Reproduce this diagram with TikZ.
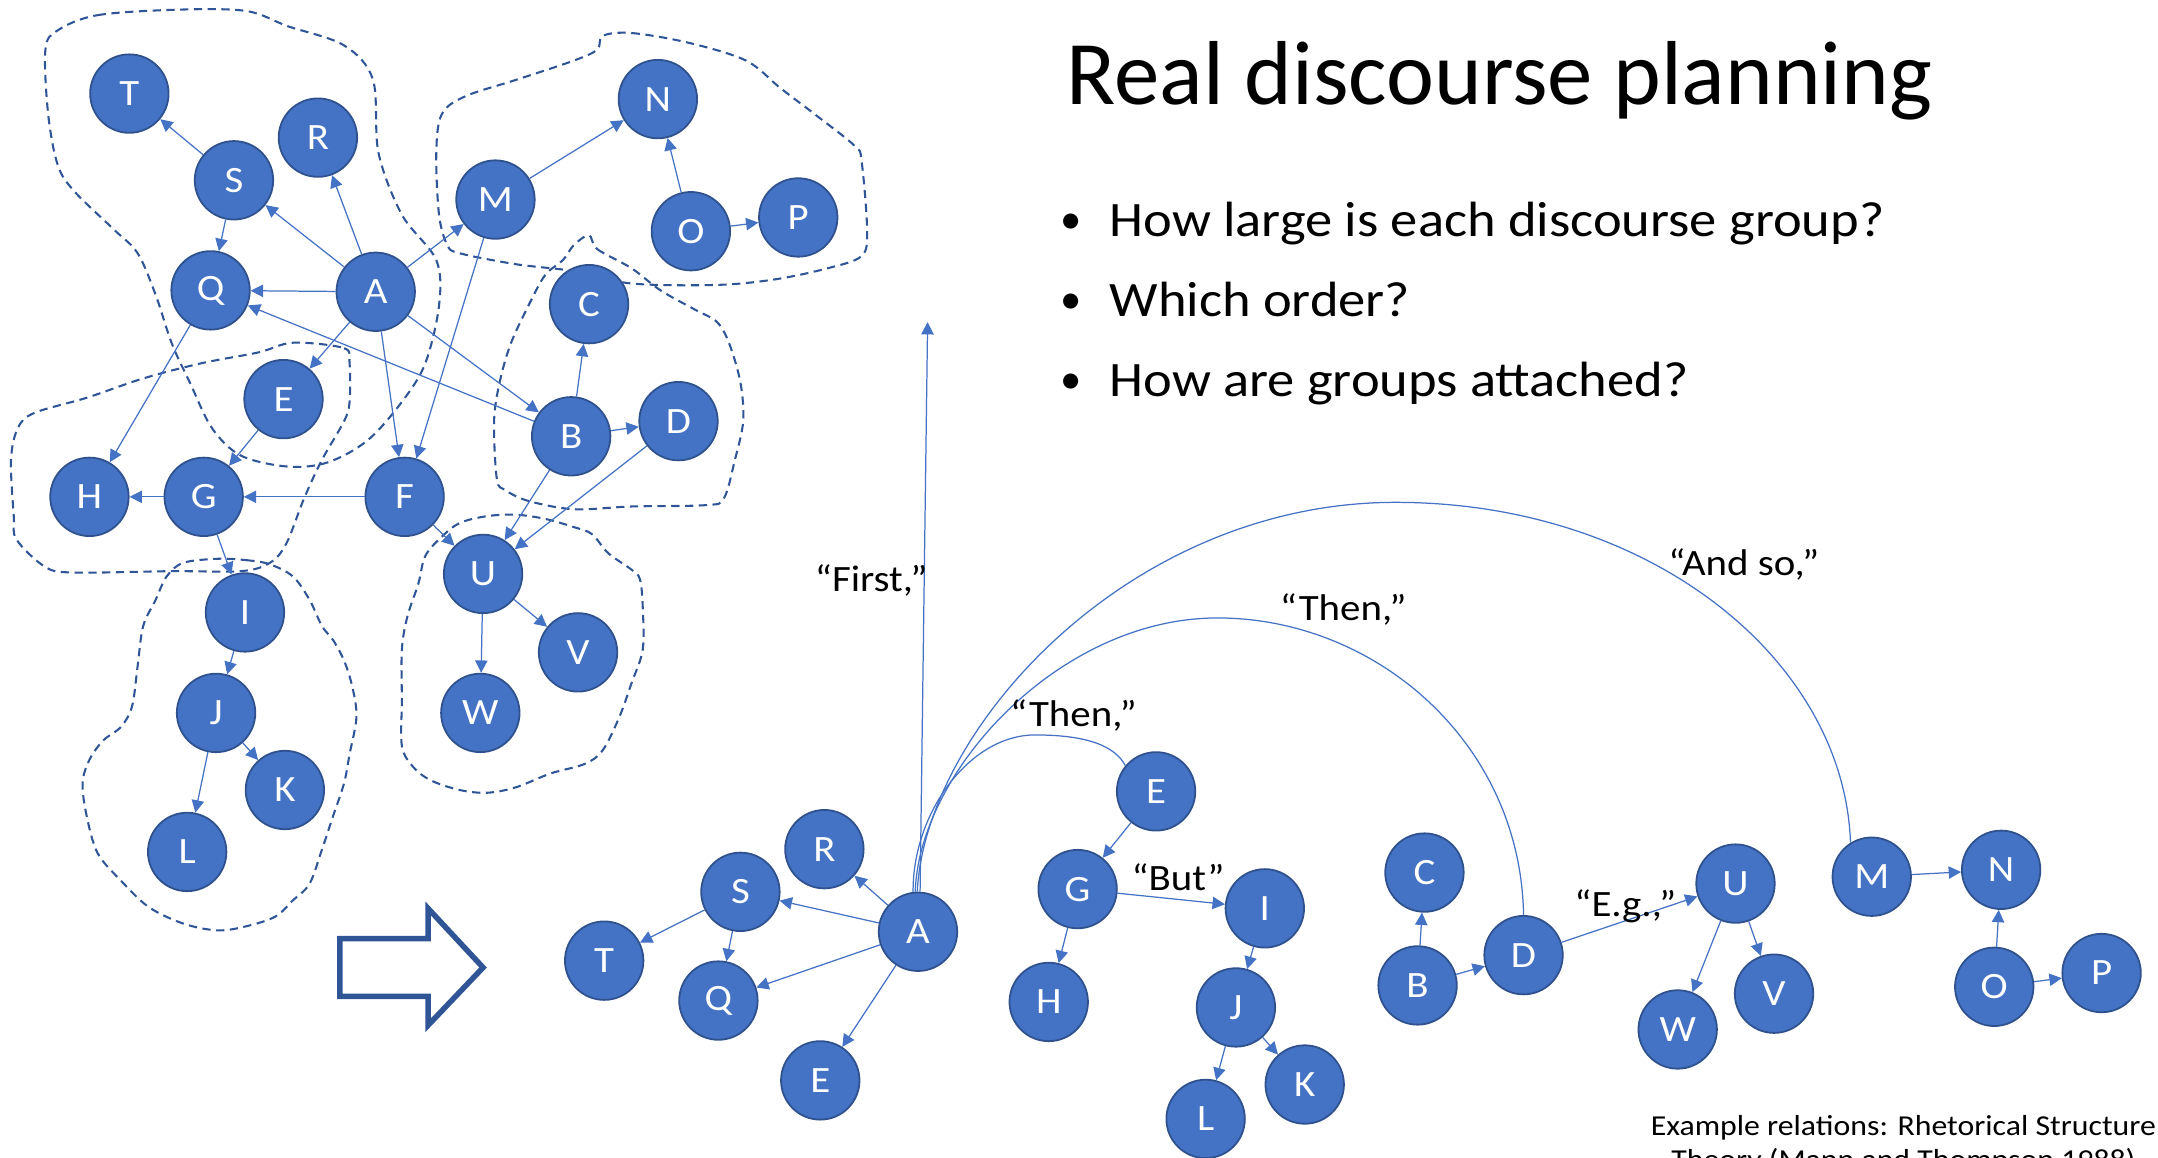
\documentclass[tikz,border=0pt]{standalone}
\usepackage{fontspec}
\setmainfont{Carlito}[FakeStretch=1.1]
\newfontfamily\titlefont{Carlito}
\usetikzlibrary{arrows.meta}
\definecolor{nodefill}{HTML}{4472C4}
\definecolor{nodeline}{HTML}{2F528F}
\definecolor{blobline}{HTML}{2F5597}
\definecolor{edgecol}{HTML}{4472C4}

\begin{document}
\begin{tikzpicture}[x=1pt,y=-1pt,
  unit/.style={circle, fill=nodefill, draw=nodeline, line width=1.3pt,
    minimum size=57pt, inner sep=0pt, text=white,
    font=\fontsize{27}{27}\selectfont},
  rel/.style={draw=edgecol, line width=0.9pt, -{Triangle[length=9pt,width=9pt]}},
  arcrel/.style={draw=edgecol, line width=0.9pt},
  group/.style={draw=blobline, line width=1.5pt, dash pattern=on 6pt off 4pt},
  cue/.style={font=\fontsize{27}{27}\selectfont, anchor=base, inner sep=0pt},
  bul/.style={font=\titlefont\fontsize{31}{31}\selectfont, anchor=base, inner sep=0pt},
  item/.style={font=\fontsize{36}{36}\selectfont, anchor=base west, inner sep=0pt},
  foot/.style={font=\fontsize{21}{21}\selectfont, anchor=base, inner sep=0pt},
  blockarrow/.style={draw=blobline, line width=4pt, fill=white, line join=miter},
]
\useasboundingbox (0,0) rectangle (1568,841);
\clip (0,0) rectangle (1568,841);

% ---------- dashed discourse groups ----------
\draw[group] plot[smooth cycle, tension=0.55] coordinates {
  (42,22) (71,11) (130,7) (179,8) (209,19) (250,33) (271,58) (275,111)
  (292,156) (317,189) (319,222) (309,264) (292,292) (267,320) (238,336)
  (209,339) (175,331) (154,311) (138,278) (125,250) (113,214) (100,184)
  (83,167) (54,139) (42,120) (35,83) (33,36)};
\draw[group] plot[smooth cycle, tension=0.55] coordinates {
  (438,26) (459,24) (500,31) (542,44) (567,64) (592,83) (621,106) (626,117)
  (630,167) (626,186) (601,195) (563,203) (521,207) (459,206) (417,197)
  (375,192) (334,184) (325,178) (319,156) (317,111) (321,83) (338,70)
  (375,58) (417,44) (434,36)};
\draw[group] plot[smooth cycle, tension=0.55] coordinates {
  (428,171) (434,181) (459,195) (480,211) (505,225) (521,234) (530,250)
  (538,278) (540,306) (534,334) (526,362) (513,367) (459,368) (417,370)
  (384,364) (367,356) (361,348) (359,306) (363,278) (371,250) (384,222)
  (396,200) (409,189) (417,178)};
\draw[group] plot[smooth cycle, tension=0.55] coordinates {
  (213,249) (250,253) (254,264) (254,292) (250,306) (234,334) (221,362)
  (208,395) (196,409) (175,415) (125,415) (54,416) (33,412) (12,392)
  (10,375) (8,334) (13,311) (25,300) (63,289) (104,275) (146,264) (188,256)};
\draw[group] plot[smooth cycle, tension=0.55] coordinates {
  (158,406) (179,407) (196,410) (213,419) (225,436) (234,455) (242,465)
  (250,480) (256,499) (259,521) (254,548) (250,569) (242,593) (234,617)
  (225,642) (213,654) (200,666) (179,673) (158,676) (133,671) (108,659)
  (88,640) (71,620) (63,593) (60,569) (65,552) (75,538) (88,528) (96,513)
  (100,484) (104,455) (113,436) (121,419) (133,409)};
\draw[group] plot[smooth cycle, tension=0.55] coordinates {
  (309,404) (321,390) (334,380) (354,375) (375,374) (396,377) (417,383)
  (430,388) (442,402) (459,414) (465,421) (467,441) (467,472) (459,496)
  (450,521) (438,545) (425,555) (400,562) (375,572) (354,576) (334,574)
  (313,567) (300,557) (292,542) (292,509) (292,472) (296,448) (304,424)};

% ---------- unordered graph ----------
\node[unit] (tT) at (94,68) {T};
\node[unit] (tR) at (231,100) {R};
\node[unit] (tS) at (170,131) {S};
\node[unit] (tM) at (360,145) {M};
\node[unit] (tN) at (478,72) {N};
\node[unit] (tO) at (502,168) {O};
\node[unit] (tP) at (580,158) {P};
\node[unit] (tQ) at (153,211) {Q};
\node[unit] (tA) at (273,212) {A};
\node[unit] (tC) at (428,221) {C};
\node[unit] (tE) at (206,290) {E};
\node[unit] (tB) at (415,317) {B};
\node[unit] (tD) at (493,306) {D};
\node[unit] (tH) at (65,361) {H};
\node[unit] (tG) at (148,361) {G};
\node[unit] (tF) at (294,361) {F};
\node[unit] (tU) at (351,417) {U};
\node[unit] (tV) at (420,474) {V};
\node[unit] (tW) at (349,518) {W};
\node[unit] (tI) at (178,445) {I};
\node[unit] (tJ) at (157,518) {J};
\node[unit] (tK) at (207,574) {K};
\node[unit] (tL) at (136,619) {L};

\draw[rel] (tS) -- (tT);
\draw[rel] (tA) -- (tR);
\draw[rel] (tA) -- (tS);
\draw[rel] (tS) -- (tQ);
\draw[rel] (tA) -- (tQ);
\draw[rel] (tA) -- (tM);
\draw[rel] (tM) -- (tN);
\draw[rel] (tO) -- (tN);
\draw[rel] (tO) -- (tP);
\draw[rel] (tA) -- (tE);
\draw[rel] (tA) -- (tF);
\draw[rel] (tA) -- (tB);
\draw[rel] (tB) -- (tQ);
\draw[rel] (tB) -- (tC);
\draw[rel] (tB) -- (tD);
\draw[rel] (tB) -- (tU);
\draw[rel] (tD) -- (tU);
\draw[rel] (tM) -- (tF);
\draw[rel] (tQ) -- (tH);
\draw[rel] (tE) -- (tG);
\draw[rel] (tG) -- (tH);
\draw[rel] (tF) -- (tG);
\draw[rel] (tF) -- (tU);
\draw[rel] (tG) -- (tI);
\draw[rel] (tI) -- (tJ);
\draw[rel] (tJ) -- (tK);
\draw[rel] (tJ) -- (tL);
\draw[rel] (tU) -- (tV);
\draw[rel] (tU) -- (tW);

% ---------- block arrow ----------
\draw[blockarrow] (247,682) -- (311,682) -- (311,660) -- (351,703)
  -- (311,745) -- (311,724) -- (247,724) -- cycle;

% ---------- ordered plan ----------
\node[unit] (bR) at (599,617) {R};
\node[unit] (bS) at (538,648) {S};
\node[unit] (bA) at (667,677) {A};
\node[unit] (bT) at (439,698) {T};
\node[unit] (bQ) at (522,727) {Q};
\node[unit] (bE) at (596,785) {E};
\node[unit] (bE2) at (840,575) {E};
\node[unit] (bG) at (783,646) {G};
\node[unit] (bH) at (762,728) {H};
\node[unit] (bI) at (919,660) {I};
\node[unit] (bJ) at (898,732) {J};
\node[unit] (bK) at (948,788) {K};
\node[unit] (bL) at (876,813) {L};
\node[unit] (bC) at (1035,634) {C};
\node[unit] (bB) at (1030,716) {B};
\node[unit] (bD) at (1107,694) {D};
\node[unit] (bU) at (1261,642) {U};
\node[unit] (bW) at (1219,748) {W};
\node[unit] (bV) at (1289,722) {V};
\node[unit] (bM) at (1360,637) {M};
\node[unit] (bN) at (1454,632) {N};
\node[unit] (bO) at (1449,717) {O};
\node[unit] (bP) at (1527,707) {P};

\draw[rel] (bA) -- (bR);
\draw[rel] (bA) -- (bS);
\draw[rel] (bS) -- (bT);
\draw[rel] (bS) -- (bQ);
\draw[rel] (bA) -- (bQ);
\draw[rel] (bA) -- (bE);
\draw[rel] (bE2) -- (bG);
\draw[rel] (bG) -- (bH);
\draw[rel] (bG) -- (bI);
\draw[rel] (bI) -- (bJ);
\draw[rel] (bJ) -- (bK);
\draw[rel] (bJ) -- (bL);
\draw[rel] (bB) -- (bC);
\draw[rel] (bB) -- (bD);
\draw[rel] (bD) -- (bU);
\draw[rel] (bU) -- (bW);
\draw[rel] (bU) -- (bV);
\draw[rel] (bM) -- (bN);
\draw[rel] (bO) -- (bN);
\draw[rel] (bO) -- (bP);

\coordinate (firsttip) at (674,234);
\draw[rel] (bA.87) -- (firsttip);

\draw[arcrel] (bA.97) .. controls (663,590) and (705,534) .. (752,534)
  .. controls (790,534) and (810,542) .. (bE2.140);
\draw[arcrel] (bA.94) .. controls (668,560) and (770,449) .. (884.6,449)
  .. controls (1000,449) and (1105,540) .. (bD.north);
\draw[arcrel] (bA.91) .. controls (672,530) and (820,365) .. (1014,365)
  .. controls (1200,365) and (1340,480) .. (bM.122);

% ---------- connective labels ----------
\node[cue] (lfirst) at (633,430) {“First,”};
\node[cue] (lthenE) at (780,528) {“Then,”};
\node[cue] (lthenD) at (976,451) {“Then,”};
\node[cue] (landso) at (1267,418) {“And so,”};
\node[cue] (lbut) at (856,647) {“But”};
\node[cue] (leg) at (1181,666) {“E.g.,”};

% ---------- title and questions ----------
\node[anchor=base west, inner sep=0pt, font=\titlefont\fontsize{66}{66}\selectfont]
  (title) at (775,76) {Real discourse planning};
\node[bul] (dot1) at (778,170) {•};
\node[item] (q1) at (806,172) {How large is each discourse group?};
\node[bul] (dot2) at (778,228) {•};
\node[item] (q2) at (806,230) {Which order?};
\node[bul] (dot3) at (778,286) {•};
\node[item] (q3) at (806,288) {How are groups attached?};

% ---------- reference note ----------
\node[foot] (foot1) at (1383,825) {Example relations: Rhetorical Structure};
\node[foot] (foot2) at (1383,850) {Theory (Mann and Thompson 1988)};
\end{tikzpicture}
\end{document}
